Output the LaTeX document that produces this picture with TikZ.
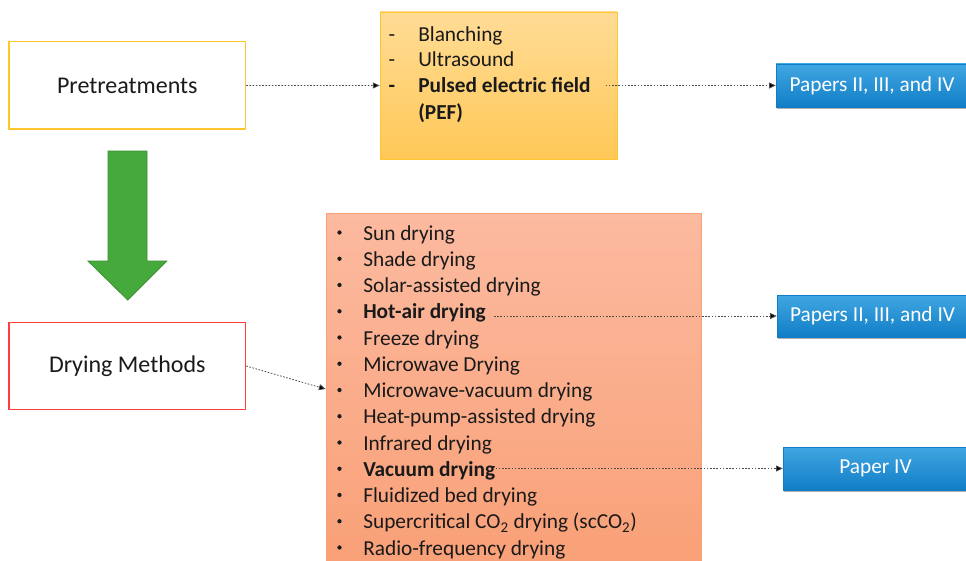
\documentclass[tikz,border=0pt]{standalone}
\usepackage{fontspec}
\setmainfont{Carlito}
\usetikzlibrary{arrows.meta,shadows}
\definecolor{prebord}{HTML}{FFC72C}
\definecolor{drybord}{HTML}{FF3F3F}
\definecolor{ytop}{HTML}{FFDC96}
\definecolor{ybot}{HTML}{FFC857}
\definecolor{ybord}{HTML}{FFC533}
\definecolor{stop}{HTML}{FCBAA0}
\definecolor{sbot}{HTML}{F9A077}
\definecolor{btop}{HTML}{41A7E2}
\definecolor{bbot}{HTML}{107DC6}
\definecolor{gfill}{HTML}{45AA3B}
\definecolor{gbord}{HTML}{3A8F33}
\definecolor{txt}{HTML}{1A1A1A}
\begin{document}
\begin{tikzpicture}[x=0.75pt,y=-0.75pt,
  every node/.style={text=txt},
  mainbox/.style={draw, line width=0.9pt, fill=white, minimum width=177.5pt,
    inner sep=0pt, font=\fontsize{18}{21}\selectfont},
  listbox/.style={line width=0.6pt, inner sep=0pt},
  bluebox/.style={top color=btop, bottom color=bbot, draw=bbot, line width=0.4pt,
    inner sep=0pt, text=white, font=\fontsize{16}{19}\selectfont,
    drop shadow={shadow xshift=1pt, shadow yshift=-1.5pt, opacity=0.45, fill=black!70}},
  item/.style={anchor=base west, inner sep=0pt, font=\fontsize{16}{19}\selectfont},
  bulletmark/.style={anchor=base, inner sep=0pt, font=\fontsize{16}{19}\selectfont},
  dotmark/.style={circle, fill=txt, inner sep=0pt, minimum size=3.2pt},
  conn/.style={draw=black!70, line width=0.6pt, dash pattern=on 1.2pt off 1.2pt,
    -{Triangle[length=5pt,width=4.5pt,fill=black]}}]
\useasboundingbox (0,0) rectangle (966,560);
\clip (0,0) rectangle (966,560);

% left boxes
\node[mainbox, draw=prebord, minimum height=65.5pt] (pre) at (127.3,85.4) {Pretreatments};
\node[mainbox, draw=drybord, minimum height=64.7pt] (dry) at (127.3,366) {Drying Methods};

% green block arrow
\draw[fill=gfill, draw=gbord, line width=0.6pt]
  (108,151) -- (147,151) -- (147,261) -- (166.7,261) -- (127.7,300)
  -- (88,261) -- (108,261) -- cycle;

% pretreatment list box
\node[listbox, top color=ytop, bottom color=ybot, draw=ybord,
  minimum width=177.75pt, minimum height=110.25pt] (ybox) at (498.5,85.5) {};
\node[bulletmark] (d1) at (392,41) {-};
\node[item] (blanch) at (418,41) {Blanching};
\node[bulletmark] (d2) at (392,67) {-};
\node[item] (ultra) at (418,67) {Ultrasound};
\node[bulletmark] (d3) at (392,93) {\textbf{-}};
\node[item] (pef) at (418,93) {\textbf{Pulsed electric field}};
\node[item] (pefb) at (418,119) {\textbf{(PEF)}};

% drying list box
\node[listbox, top color=stop, bottom color=sbot, draw=sbot,
  minimum width=281.25pt, minimum height=264pt] (salmon) at (513.5,389) {};
\foreach \t [count=\i] in {Sun drying, Shade drying, Solar-assisted drying,
  {\textbf{Hot-air drying}}, Freeze drying, Microwave Drying,
  Microwave-vacuum drying, Heat-pump-assisted drying, Infrared drying,
  {\textbf{Vacuum drying}}, Fluidized bed drying,
  {Supercritical CO\textsubscript{2} drying (scCO\textsubscript{2})},
  Radio-frequency drying} {
  \node[dotmark] (b\i) at (339.5,{232.5+26.25*(\i-1)}) {};
  \node[item] (m\i) at (363,{240+26.25*(\i-1)}) {\t};
}

% blue boxes
\node[bluebox, minimum width=144pt, minimum height=32.25pt] (blue1) at (872,85.5) {Papers II, III, and IV};
\node[bluebox, minimum width=143.25pt, minimum height=31.5pt] (blue2) at (872.5,316) {Papers II, III, and IV};
\node[bluebox, minimum width=138.75pt, minimum height=32.25pt] (blue3) at (875.5,468.5) {Paper IV};

% connectors
\draw[conn] (pre.east) -- (ybox.west);
\draw[conn] (dry.east) -- (salmon.west);
\draw[conn, shorten <=11pt] (pef.east |- blue1.west) -- (blue1.west);
\draw[conn, shorten <=6pt] (m4.east |- blue2.west) -- (blue2.west);
\draw[conn] (m10.east |- blue3.west) -- (blue3.west);
\end{tikzpicture}
\end{document}
